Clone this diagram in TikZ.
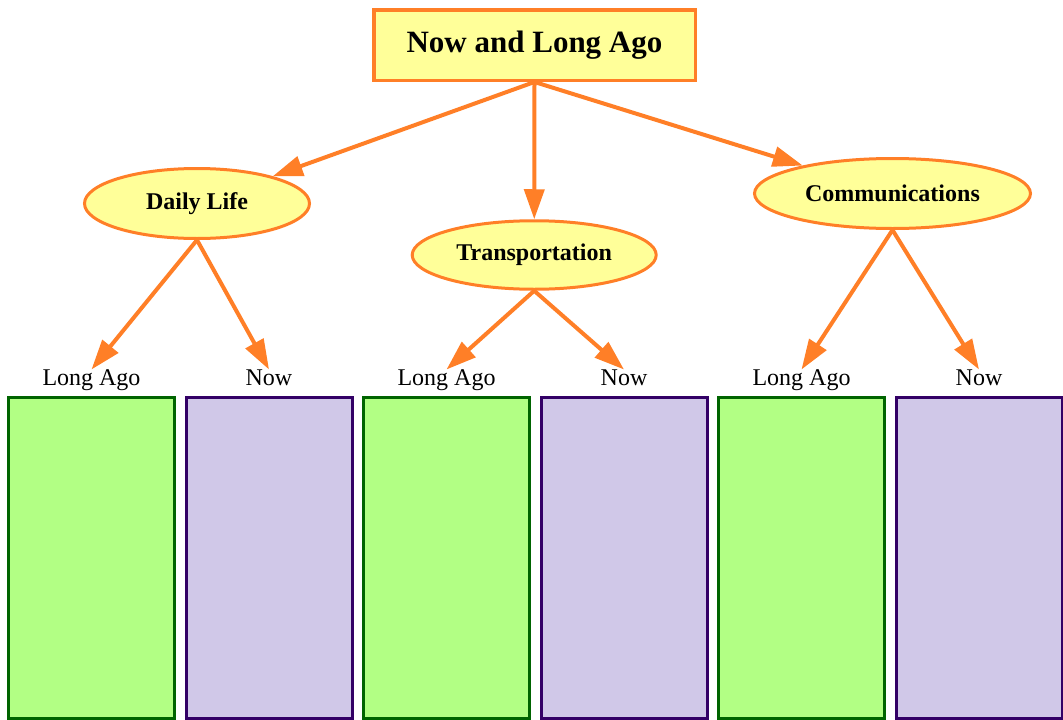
\documentclass[tikz,border=0pt]{standalone}
\usepackage{fontspec}
\setmainfont{Liberation Serif}
\usepackage{xcolor}
\usetikzlibrary{arrows.meta,shapes.geometric}
\definecolor{edgeorange}{RGB}{255,127,39}
\definecolor{paleyellow}{RGB}{255,255,153}
\definecolor{oldfill}{RGB}{178,255,132}
\definecolor{oldline}{RGB}{0,100,0}
\definecolor{newfill}{RGB}{208,200,232}
\definecolor{newline}{RGB}{51,0,102}
\tikzset{
  title/.style={draw=edgeorange,line width=3.5pt,fill=paleyellow,minimum width=321.5pt,minimum height=70.5pt,inner sep=0pt,font=\fontsize{31}{36}\selectfont\bfseries},
  topic/.style={ellipse,draw=edgeorange,line width=3pt,fill=paleyellow,inner sep=0pt,font=\fontsize{24}{28}\selectfont\bfseries},
  lbl/.style={inner sep=0pt,anchor=north,font=\fontsize{24}{28}\selectfont},
  oldbox/.style={draw=oldline,fill=oldfill,line width=3pt,minimum width=166pt,minimum height=320.5pt,inner sep=0pt},
  newbox/.style={draw=newline,fill=newfill,line width=3pt,minimum width=166pt,minimum height=320.5pt,inner sep=0pt},
  link/.style={-{Triangle[length=30pt,width=20pt]},line width=4pt,color=edgeorange},
}
\begin{document}
\begin{tikzpicture}[x=1pt,y=-1pt]
  \useasboundingbox (0,0) rectangle (1063,720);
  \node[title] (top) at (534.5,45) {Now and Long Ago};
  \node[topic,minimum width=225pt,minimum height=70pt] (daily) at (197,203.5) {Daily Life};
  \node[topic,minimum width=244pt,minimum height=68.5pt] (trans) at (534.2,255) {Transportation};
  \node[topic,minimum width=276pt,minimum height=70pt] (comm) at (892.5,193.5) {Communications};
  \draw[link] (top.south) -- (daily);
  \draw[link] (top.south) -- (trans);
  \draw[link] (top.south) -- (comm);
  % one pair of columns per topic
  \foreach \i/\t in {0/daily,1/trans,2/comm} {
    \node[oldbox] (old\i) at ({91.5+355*\i},558.2) {};
    \node[newbox] (new\i) at ({269+355*\i},558.2) {};
    \node[lbl] (lo\i) at ({91.5+355*\i},369.5) {Long Ago};
    \node[lbl] (nw\i) at ({269+355*\i},369.5) {Now};
    \draw[link] (\t.south) -- (lo\i.north);
    \draw[link] (\t.south) -- (nw\i.north);
  }
\end{tikzpicture}
\end{document}
